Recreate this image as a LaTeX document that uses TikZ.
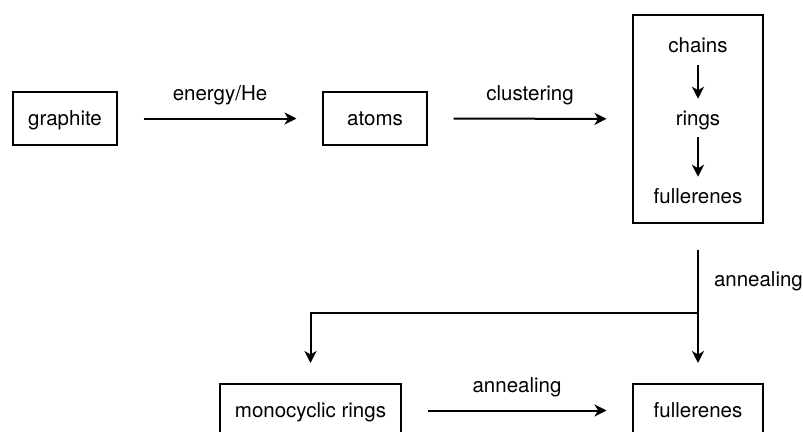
\documentclass[tikz,border=0pt]{standalone}
\usepackage{fontspec}
\setmainfont{TeX Gyre Heros}
\usepackage{tikz}
\usetikzlibrary{positioning,arrows.meta}

\begin{document}
\begin{tikzpicture}[x=1pt,y=-1pt,line width=2pt,
    font=\fontsize{20.5}{24}\selectfont,
    box/.style={draw,inner sep=0pt,minimum width=104pt,minimum height=53pt,
      text height=14.5pt,text depth=0pt},
    item/.style={inner sep=0pt,text height=14.5pt,text depth=0pt},
    lbl/.style={inner sep=0pt,text height=14.5pt,text depth=0pt},
    flow/.style={-{Stealth[length=12pt,width=12pt,inset=3.5pt]},shorten <=25.5pt,shorten >=25.5pt},
    inner/.style={-{Stealth[length=12pt,width=12pt,inset=3.5pt]},shorten <=11pt,shorten >=11pt}]
  \useasboundingbox (0,0) rectangle (803,431);
  % top row
  \node[box] (graphite) at (65,118.5) {graphite};
  \node[box] (atoms) at (375,118.5) {atoms};
  \node[box,minimum width=130pt,minimum height=208pt] (stage) at (698,119) {};
  \node[item] (chains) at (698,45.5) {chains};
  \node[item] (rings) at (698,118) {rings};
  \node[item] (fuller) at (698,196) {fullerenes};
  \draw[flow] (graphite) -- node[lbl,above=17.5pt] {energy/He} (atoms);
  \draw[flow] (atoms) -- node[lbl,above=17.5pt] {clustering} (stage);
  \draw[inner] (chains) -- (rings);
  \draw[inner] (rings) -- (fuller);
  % bottom row
  \node[box,minimum width=181pt] (mono) at (310.5,410.5) {monocyclic rings};
  \node[box,minimum width=130pt] (fullerB) at (698,410.5) {fullerenes};
  \coordinate (split) at (698,313);
  \draw[flow,shorten >=20pt] (stage) -- node[lbl,anchor=base west,pos=0.39,xshift=15pt] {annealing} (fullerB);
  \draw[flow,shorten <=0pt,shorten >=20pt] (split) -| (mono);
  \draw[flow] (mono) -- node[lbl,above=17.5pt] {annealing} (fullerB);
\end{tikzpicture}
\end{document}
